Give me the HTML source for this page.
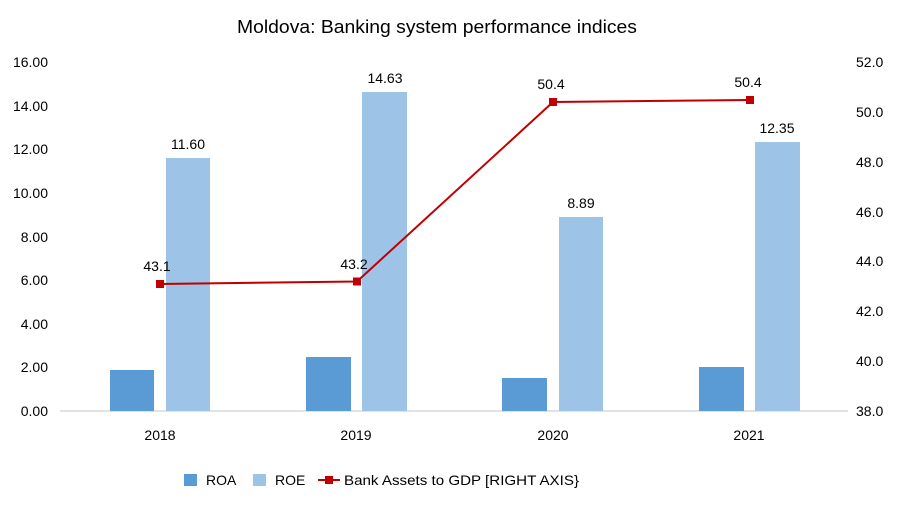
<!DOCTYPE html>
<html><head><meta charset="utf-8"><style>
html,body{margin:0;padding:0;background:#fff;}
svg text{font-family:"Liberation Sans",sans-serif;fill:#000;}
</style></head><body>
<svg width="900" height="510" viewBox="0 0 900 510" xmlns="http://www.w3.org/2000/svg">
<rect width="900" height="510" fill="#fff"/>
<text x="437" y="33" font-size="18" text-anchor="middle" textLength="400" lengthAdjust="spacingAndGlyphs">Moldova: Banking system performance indices</text>
<g font-size="14" text-anchor="end">
<text x="48" y="416">0.00</text><text x="48" y="372">2.00</text><text x="48" y="329">4.00</text><text x="48" y="285">6.00</text>
<text x="48" y="242">8.00</text><text x="48" y="198">10.00</text><text x="48" y="154">12.00</text><text x="48" y="111">14.00</text><text x="48" y="67">16.00</text>
</g>
<g font-size="14" text-anchor="start">
<text x="856" y="416">38.0</text><text x="856" y="366">40.0</text><text x="856" y="316">42.0</text><text x="856" y="266">44.0</text>
<text x="856" y="217">46.0</text><text x="856" y="167">48.0</text><text x="856" y="117">50.0</text><text x="856" y="67">52.0</text>
</g>
<line x1="60" y1="411" x2="848" y2="411" stroke="#d0d0d0" stroke-width="1.2"/>
<g fill="#5B9BD5">
<rect x="110" y="370" width="44" height="41"/><rect x="306" y="357" width="45" height="54"/>
<rect x="502" y="378" width="45" height="33"/><rect x="699" y="367" width="45" height="44"/>
</g>
<g fill="#9DC3E6">
<rect x="166" y="158" width="44" height="253"/><rect x="362" y="92" width="45" height="319"/>
<rect x="559" y="217" width="44" height="194"/><rect x="755" y="142" width="45" height="269"/>
</g>
<g font-size="14" text-anchor="middle">
<text x="188" y="149">11.60</text><text x="385" y="83">14.63</text><text x="581" y="208">8.89</text><text x="777" y="133">12.35</text>
<text x="157" y="271">43.1</text><text x="354" y="269">43.2</text><text x="551" y="89">50.4</text><text x="748" y="87">50.4</text>
</g>
<polyline points="160,284 357,281.5 553,102 750,100" fill="none" stroke="#C00000" stroke-width="2"/>
<g fill="#C00000">
<rect x="156" y="280" width="8" height="8"/><rect x="353" y="277.5" width="8" height="8"/>
<rect x="549" y="98" width="8" height="8"/><rect x="746" y="96" width="8" height="8"/>
</g>
<g font-size="14" text-anchor="middle">
<text x="160" y="440">2018</text><text x="356" y="440">2019</text><text x="553" y="440">2020</text><text x="749" y="440">2021</text>
</g>
<rect x="184" y="474" width="13" height="12" fill="#5B9BD5"/>
<text x="206" y="485" font-size="14">ROA</text>
<rect x="253" y="474" width="13" height="12" fill="#9DC3E6"/>
<text x="275" y="485" font-size="14">ROE</text>
<line x1="318" y1="480" x2="340" y2="480" stroke="#C00000" stroke-width="2"/>
<rect x="325" y="476" width="8" height="8" fill="#C00000"/>
<text x="344" y="485" font-size="14" textLength="235" lengthAdjust="spacingAndGlyphs">Bank Assets to GDP [RIGHT AXIS}</text>
</svg>
</body></html>
